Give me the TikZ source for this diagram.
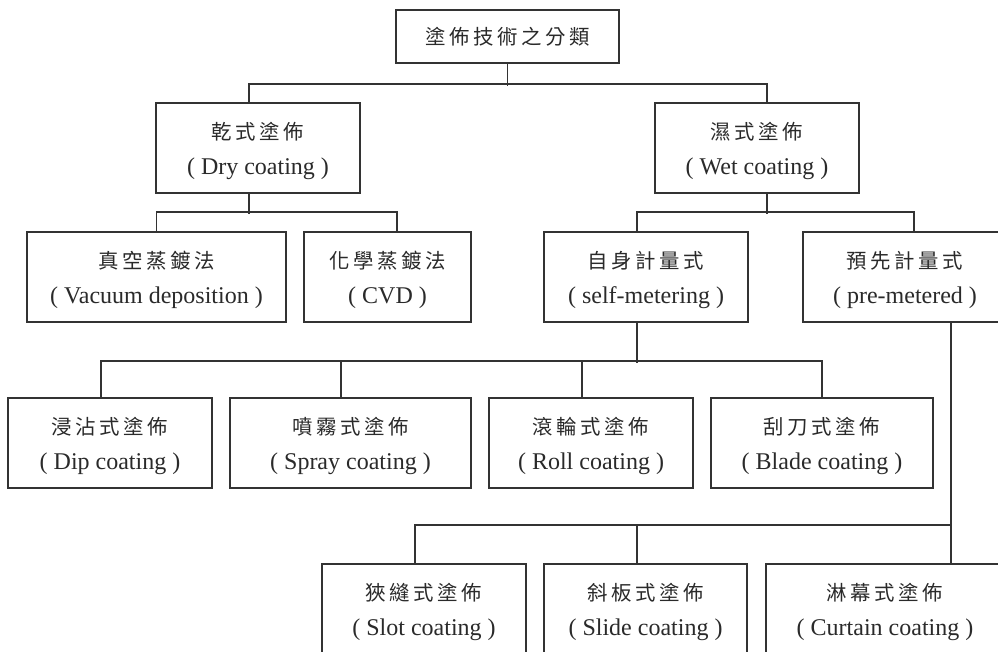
\documentclass[tikz,border=0pt]{standalone}
\usepackage{fontspec}
\setmainfont{Liberation Serif}
\newfontfamily\cjk[Scale=0.85,LetterSpace=18]{Noto Sans CJK TC}
\definecolor{lineclr}{HTML}{333333}
\definecolor{txtclr}{HTML}{2A2A2A}
\begin{document}
\begin{tikzpicture}[x=1pt,y=1pt,
  box/.style={draw=lineclr, line width=1.5pt, minimum height=90pt, inner sep=0pt,
    align=center, font=\fontsize{24}{35}\selectfont, text=txtclr, text depth=0pt},
  link/.style={draw=lineclr, line width=1.6pt}]
\useasboundingbox[fill=white] (0,0) rectangle (998,-651);

% root
\node[box, minimum width=223pt, minimum height=53pt, text depth=] (root) at (507.5,-36.5) {\cjk 塗佈技術之分類};

% first level
\node[box, minimum width=204pt] (dry) at (258,-148) {{\cjk 乾式塗佈}\\( Dry coating )};
\node[box, minimum width=204pt] (wet) at (757,-148) {{\cjk 濕式塗佈}\\( Wet coating )};

% second level
\node[box, minimum width=259pt] (vac) at (156.5,-277) {{\cjk 真空蒸鍍法}\\( Vacuum deposition )};
\node[box, minimum width=167pt] (cvd) at (387.5,-277) {{\cjk 化學蒸鍍法}\\( CVD )};
\node[box, minimum width=204pt] (self) at (646,-277) {{\cjk 自身計量式}\\( self-metering )};
\node[box, minimum width=204pt] (pre) at (905,-277) {{\cjk 預先計量式}\\( pre-metered )};

% self-metered methods
\node[box, minimum width=204pt] (dip) at (110,-443) {{\cjk 浸沾式塗佈}\\( Dip coating )};
\node[box, minimum width=241pt] (spray) at (350.5,-443) {{\cjk 噴霧式塗佈}\\( Spray coating )};
\node[box, minimum width=204pt] (roll) at (591,-443) {{\cjk 滾輪式塗佈}\\( Roll coating )};
\node[box, minimum width=222pt] (blade) at (822,-443) {{\cjk 刮刀式塗佈}\\( Blade coating )};

% pre-metered methods
\node[box, minimum width=204pt] (slot) at (424,-609) {{\cjk 狹縫式塗佈}\\( Slot coating )};
\node[box, minimum width=203pt] (slide) at (645.5,-609) {{\cjk 斜板式塗佈}\\( Slide coating )};
\node[box, minimum width=238pt] (curtain) at (885,-609) {{\cjk 淋幕式塗佈}\\( Curtain coating )};

% connectors
\draw[link] (root.south) -- ++(0,-22);
\draw[link] ([xshift=-9pt]dry.north) -- ++(0,18) -| ([xshift=10pt]wet.north);

\draw[link] ([xshift=-9pt]dry.south) -- ++(0,-20);
\draw[link] (vac.north) -- ++(0,19) -| ([xshift=9.5pt]cvd.north);

\draw[link] ([xshift=10pt]wet.south) -- ++(0,-20);
\draw[link] ([xshift=-9pt]self.north) -- ++(0,19) -| ([xshift=9pt]pre.north);

\draw[link] ([xshift=-9pt]self.south) -- ++(0,-40);
\draw[link] ([xshift=-9pt]dip.north) -- ++(0,36) -| (blade.north);
\draw[link] ([xshift=-9.5pt]spray.north) -- ++(0,36);
\draw[link] ([xshift=-9pt]roll.north) -- ++(0,36);

\draw[link] ([xshift=46pt]pre.south) -- ([xshift=66pt]curtain.north);
\draw[link] ([xshift=-9pt]slot.north) -- ++(0,38) -| ([xshift=66pt]curtain.north);
\draw[link] ([xshift=-8.5pt]slide.north) -- ++(0,38);
\end{tikzpicture}
\end{document}
